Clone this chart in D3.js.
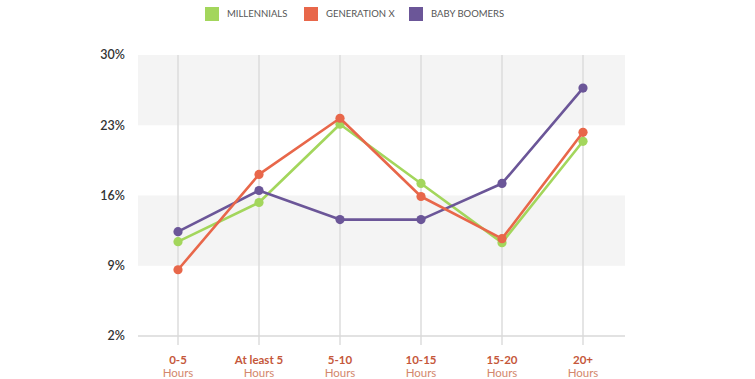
<!DOCTYPE html>
<html>
<head>
<meta charset="utf-8">
<script src="https://cdn.jsdelivr.net/npm/d3@7"></script>
<style>
  body { margin: 0; background: #fff; }
  svg { display: block; font-family: "Lato", "Open Sans", sans-serif; }
</style>
</head>
<body>
<div id="vis"></div>
<script>
// chart data
const categories = ['0-5', 'At least 5', '5-10', '10-15', '15-20', '20+']
const yTicks = [2, 9, 16, 23, 30]
const seriesNames = ['MILLENNIALS', 'GENERATION X', 'BABY BOOMERS']
const millennials = [11.4, 15.3, 23.1, 17.2, 11.3, 21.4]
const generationX = [8.6, 18.1, 23.7, 15.9, 11.7, 22.3]
const babyBoomers = [12.4, 16.5, 13.6, 13.6, 17.2, 26.7]

const colors = ['#a3d65c', '#e8674a', '#6b5698']

const width = 755, height = 379
const margin = {left: 138, right: 130, top: 55, bottom: 43}

const svg = d3.select('#vis').append('svg')
    .attr('width', width)
    .attr('height', height)

const xScale = d3.scalePoint()
    .domain(categories)
    .range([178, 583])

const yScale = d3.scaleLinear()
    .domain([2, 30])
    .range([height - margin.bottom, margin.top])

const plotRight = 625

// alternating grey bands
const bands = [[23, 30], [9, 16]]
svg.selectAll('.band')
    .data(bands)
    .join('rect')
    .attr('class', 'band')
    .attr('x', margin.left)
    .attr('width', plotRight - margin.left)
    .attr('y', d => yScale(d[1]))
    .attr('height', d => yScale(d[0]) - yScale(d[1]))
    .attr('fill', '#f4f4f4')

// vertical gridlines, reaching below the baseline as ticks
svg.selectAll('.vgrid')
    .data(categories)
    .join('line')
    .attr('class', 'vgrid')
    .attr('x1', d => xScale(d))
    .attr('x2', d => xScale(d))
    .attr('y1', yScale(30))
    .attr('y2', yScale(2) + 9)
    .attr('stroke', '#dcdcdc')
    .attr('stroke-width', 1.5)

// baseline
svg.append('line')
    .attr('x1', margin.left)
    .attr('x2', plotRight)
    .attr('y1', yScale(2))
    .attr('y2', yScale(2))
    .attr('stroke', '#d8d8d8')
    .attr('stroke-width', 1.5)

// y labels
svg.selectAll('.ylab')
    .data(yTicks)
    .join('text')
    .attr('class', 'ylab')
    .attr('x', 125)
    .attr('y', d => yScale(d))
    .attr('dy', '0.35em')
    .attr('text-anchor', 'end')
    .attr('font-size', 12.5)
    .attr('font-weight', 600)
    .attr('fill', '#333')
    .text(d => d + '%')

// x labels (two lines)
const xlab = svg.selectAll('.xlab')
    .data(categories)
    .join('text')
    .attr('class', 'xlab')
    .attr('text-anchor', 'middle')
    .attr('font-size', 11.5)
xlab.append('tspan')
    .attr('x', d => xScale(d))
    .attr('y', 364)
    .attr('font-weight', 700)
    .attr('fill', '#c5573a')
    .text(d => d)
xlab.append('tspan')
    .attr('x', d => xScale(d))
    .attr('y', 377)
    .attr('fill', '#d3876d')
    .text('Hours')

// lines and dots
const allSeries = [millennials, generationX, babyBoomers]
const line = d3.line()
    .x((d, i) => xScale(categories[i]))
    .y(d => yScale(d))

// draw green first, purple next, orange on top
const drawOrder = [0, 2, 1]
drawOrder.forEach(k => {
    const g = svg.append('g')
    g.append('path')
        .datum(allSeries[k])
        .attr('d', line)
        .attr('fill', 'none')
        .attr('stroke', colors[k])
        .attr('stroke-width', 2.6)
        .attr('stroke-linejoin', 'round')
    g.selectAll('circle')
        .data(allSeries[k])
        .join('circle')
        .attr('cx', (d, i) => xScale(categories[i]))
        .attr('cy', d => yScale(d))
        .attr('r', 4.6)
        .attr('fill', colors[k])
})

// legend
const legendX = [205, 304, 409]
const legend = svg.selectAll('.legend')
    .data(seriesNames)
    .join('g')
    .attr('class', 'legend')
    .attr('transform', (d, i) => `translate(${legendX[i]},7)`)
legend.append('rect')
    .attr('width', 14)
    .attr('height', 14)
    .attr('fill', (d, i) => colors[i])
legend.append('text')
    .attr('x', 22)
    .attr('y', 7)
    .attr('dy', '0.35em')
    .attr('font-size', 9.5)
    .attr('fill', '#555')
    .text(d => d)
</script>
</body>
</html>
